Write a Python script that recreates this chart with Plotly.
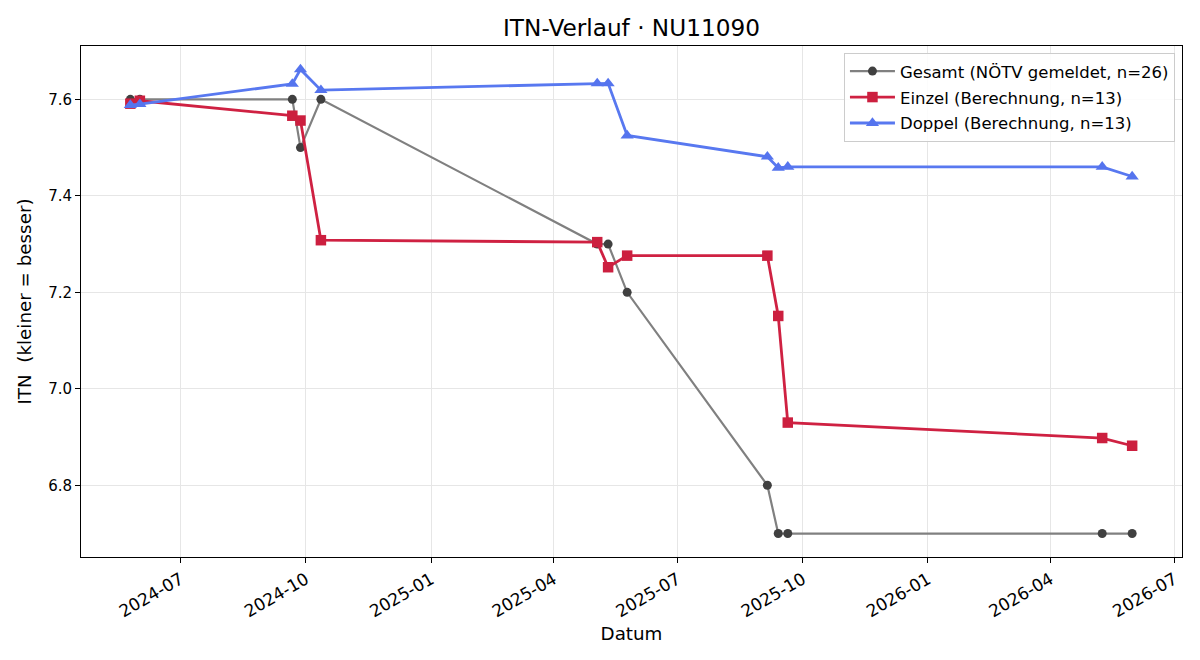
import plotly.graph_objects as go

# ---- data ----
dates = ["2024-05-25", "2024-06-01", "2024-09-21", "2024-09-27", "2024-10-12",
         "2025-05-03", "2025-05-11", "2025-05-25", "2025-09-05", "2025-09-13",
         "2025-09-20", "2026-05-09", "2026-05-31"]
gesamt = [7.6, 7.6, 7.6, 7.5, 7.6, 7.3, 7.3, 7.2, 6.8, 6.7, 6.7, 6.7, 6.7]
einzel = [7.591, 7.597, 7.566, 7.556, 7.308, 7.304, 7.252, 7.276, 7.276,
          7.151, 6.930, 6.898, 6.882]
doppel = [7.588, 7.590, 7.632, 7.662, 7.619, 7.633, 7.633, 7.525, 7.481,
          7.458, 7.460, 7.460, 7.440]

names = ["Gesamt (NÖTV gemeldet, n=26)",
         "Einzel (Berechnung, n=13)",
         "Doppel (Berechnung, n=13)"]

title = "ITN-Verlauf · NU11090"
xlabel = "Datum"
ylabel = "ITN\u00a0 (kleiner = besser)"

FONT = "DejaVu Sans"

fig = go.Figure()
fig.add_trace(go.Scatter(
    x=dates, y=gesamt, name=names[0], mode="lines+markers", legendgroup="g",
    line=dict(color="#808080", width=2.2),
    marker=dict(symbol="circle", size=9, color="#404040"),
))
fig.add_trace(go.Scatter(
    x=dates, y=einzel, name=names[1], mode="lines+markers", legendgroup="e",
    line=dict(color="#cf2142", width=2.8),
    marker=dict(symbol="square", size=10.5, color="#cc1f3f"),
))
fig.add_trace(go.Scatter(
    x=dates, y=doppel, name=names[2], mode="lines+markers", legendgroup="d",
    line=dict(color="#5878f0", width=2.8),
    marker=dict(symbol="triangle-up", size=11.5, color="#5574ee"),
))

axis_common = dict(
    showline=True, linecolor="black", linewidth=1, mirror=True,
    ticks="outside", ticklen=5, tickwidth=1, tickcolor="black",
    showgrid=True, gridcolor="#e6e6e6", gridwidth=1,
    zeroline=False,
)

fig.update_layout(
    width=1200, height=660,
    paper_bgcolor="white", plot_bgcolor="white",
    margin=dict(l=81, r=18, t=46, b=103),
    font=dict(family=FONT, color="black"),
    title=dict(text=title, x=(81 + 1182) / 2 / 1200, xanchor="center",
               y=1 - 28 / 660, yanchor="middle", yref="container",
               font=dict(family=FONT, size=23.2, color="black")),
    legend=dict(x=0.9936, xanchor="right", y=0.9865, yanchor="top",
                bgcolor="rgba(255,255,255,0.85)", bordercolor="#cccccc",
                borderwidth=1, font=dict(family=FONT, size=16.5, color="black"),
                itemwidth=45, traceorder="grouped", tracegroupgap=1.5),
    showlegend=True,
)

fig.update_xaxes(
    type="date", range=["2024-04-18 18:00", "2026-07-06 15:00"],
    tick0="2024-01-01", dtick="M3", tickformat="%Y-%m", tickangle=-30,
    tickfont=dict(family=FONT, size=17, color="black"),
    title=dict(text=xlabel, font=dict(family=FONT, size=18.3, color="black"),
               standoff=6),
    **axis_common,
)
fig.update_yaxes(
    range=[6.6514, 7.7105], tick0=6.8, dtick=0.2, tickformat=".1f",
    tickfont=dict(family=FONT, size=15, color="black"),
    title=dict(text=ylabel, font=dict(family=FONT, size=18.3, color="black"),
               standoff=11),
    **axis_common,
)

fig.write_html("out.html")
